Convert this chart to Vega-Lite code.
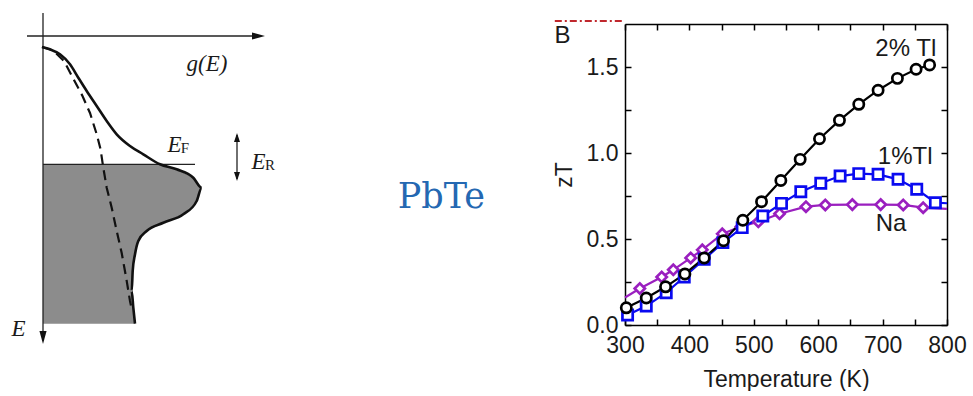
{
  "$schema": "https://vega.github.io/schema/vega-lite/v6.json",
  "background": "white",
  "padding": {"left": 0, "top": 12, "right": 0, "bottom": 0},
  "spacing": 0,
  "bounds": "flush",
  "resolve": {"scale": {"shape": "independent", "color": "independent", "stroke": "independent"}},
  "config": {"view": {"stroke": null}, "font": "Liberation Sans"},
  "datasets": {
    "fill": [
      {"g": 117, "E": 128.3}, {"g": 133.7, "E": 133.3}, {"g": 150.3, "E": 141.7}, {"g": 158.7, "E": 151.7},
      {"g": 153.7, "E": 165}, {"g": 140.3, "E": 178.3}, {"g": 120.3, "E": 186.7}, {"g": 103.7, "E": 195},
      {"g": 95.3, "E": 205}, {"g": 92, "E": 218.3}, {"g": 89.7, "E": 235}, {"g": 88.7, "E": 255},
      {"g": 90.3, "E": 271.7}, {"g": 92, "E": 287.7}
    ],
    "solid": [
      {"g": -1, "E": 11}, {"g": 7, "E": 13.3}, {"g": 17, "E": 18.3}, {"g": 27, "E": 28.3}, {"g": 35.3, "E": 41.7},
      {"g": 43.7, "E": 55}, {"g": 53.7, "E": 70}, {"g": 63.7, "E": 85}, {"g": 73.7, "E": 98.3}, {"g": 87, "E": 110},
      {"g": 100.3, "E": 118.3}, {"g": 117, "E": 128.3}, {"g": 133.7, "E": 133.3}, {"g": 150.3, "E": 141.7},
      {"g": 158.7, "E": 151.7}, {"g": 153.7, "E": 165}, {"g": 140.3, "E": 178.3}, {"g": 120.3, "E": 186.7},
      {"g": 103.7, "E": 195}, {"g": 95.3, "E": 205}, {"g": 92, "E": 218.3}, {"g": 89.7, "E": 235},
      {"g": 88.7, "E": 255}, {"g": 90.3, "E": 271.7}, {"g": 92, "E": 287.7}
    ],
    "dashed": [
      {"g": -1, "E": 11}, {"g": 10.3, "E": 14.5}, {"g": 21, "E": 25}, {"g": 31, "E": 44}, {"g": 39.5, "E": 60},
      {"g": 47, "E": 77}, {"g": 53.7, "E": 98.3}, {"g": 57.5, "E": 113}, {"g": 60.3, "E": 131.7}, {"g": 63.7, "E": 151.7},
      {"g": 68.7, "E": 171.7}, {"g": 73.7, "E": 195}, {"g": 78.7, "E": 217}, {"g": 83.4, "E": 243},
      {"g": 87, "E": 265}, {"g": 88.5, "E": 272}
    ],
    "rules": [
      {"g": 0, "E": -23, "g2": 0, "E2": 305},
      {"g": -16, "E": 0, "g2": 218, "E2": 0},
      {"g": 0, "E": 128.3, "g2": 152, "E2": 128.3},
      {"g": 194, "E": 99, "g2": 194, "E2": 143}
    ],
    "arrows": [
      {"g": 0, "E": 301.5, "dir": "down"},
      {"g": 215.5, "E": 0, "dir": "right"},
      {"g": 194, "E": 101.5, "dir": "upS"},
      {"g": 194, "E": 140.5, "dir": "downS"}
    ],
    "italic": [
      {"g": 164, "E": 35, "t": "g(E)"},
      {"g": -24.5, "E": 300, "t": "E"},
      {"g": 131.5, "E": 116, "t": "E"},
      {"g": 215.5, "E": 133, "t": "E"}
    ],
    "subs": [
      {"g": 142, "E": 117, "t": "F"},
      {"g": 227, "E": 134, "t": "R"}
    ],
    "title": [{"label": "PbTe"}],
    "zt": [
      {"s": "Na", "T": 300, "zT": 0.16, "m": 0},
      {"s": "Na", "T": 323, "zT": 0.212, "m": 1},
      {"s": "Na", "T": 357, "zT": 0.279, "m": 1},
      {"s": "Na", "T": 375, "zT": 0.321, "m": 1},
      {"s": "Na", "T": 402, "zT": 0.39, "m": 1},
      {"s": "Na", "T": 420, "zT": 0.437, "m": 1},
      {"s": "Na", "T": 451, "zT": 0.53, "m": 1},
      {"s": "Na", "T": 480, "zT": 0.572, "m": 1},
      {"s": "Na", "T": 507, "zT": 0.6, "m": 1},
      {"s": "Na", "T": 540, "zT": 0.647, "m": 1},
      {"s": "Na", "T": 581, "zT": 0.688, "m": 1},
      {"s": "Na", "T": 611, "zT": 0.698, "m": 1},
      {"s": "Na", "T": 653, "zT": 0.7, "m": 1},
      {"s": "Na", "T": 697, "zT": 0.7, "m": 1},
      {"s": "Na", "T": 732, "zT": 0.698, "m": 1},
      {"s": "Na", "T": 763, "zT": 0.682, "m": 1},
      {"s": "Na", "T": 800, "zT": 0.675, "m": 0},
      {"s": "1%Tl", "T": 304, "zT": 0.058, "m": 1},
      {"s": "1%Tl", "T": 333, "zT": 0.11, "m": 1},
      {"s": "1%Tl", "T": 364, "zT": 0.188, "m": 1},
      {"s": "1%Tl", "T": 392, "zT": 0.279, "m": 1},
      {"s": "1%Tl", "T": 423, "zT": 0.382, "m": 1},
      {"s": "1%Tl", "T": 452, "zT": 0.479, "m": 1},
      {"s": "1%Tl", "T": 482, "zT": 0.566, "m": 1},
      {"s": "1%Tl", "T": 514, "zT": 0.634, "m": 1},
      {"s": "1%Tl", "T": 543, "zT": 0.707, "m": 1},
      {"s": "1%Tl", "T": 573, "zT": 0.775, "m": 1},
      {"s": "1%Tl", "T": 604, "zT": 0.824, "m": 1},
      {"s": "1%Tl", "T": 634, "zT": 0.866, "m": 1},
      {"s": "1%Tl", "T": 663, "zT": 0.88, "m": 1},
      {"s": "1%Tl", "T": 693, "zT": 0.876, "m": 1},
      {"s": "1%Tl", "T": 724, "zT": 0.847, "m": 1},
      {"s": "1%Tl", "T": 753, "zT": 0.789, "m": 1},
      {"s": "1%Tl", "T": 782, "zT": 0.711, "m": 1},
      {"s": "1%Tl", "T": 800, "zT": 0.708, "m": 0},
      {"s": "2%Tl", "T": 302, "zT": 0.1, "m": 1},
      {"s": "2%Tl", "T": 333, "zT": 0.157, "m": 1},
      {"s": "2%Tl", "T": 363, "zT": 0.222, "m": 1},
      {"s": "2%Tl", "T": 393, "zT": 0.297, "m": 1},
      {"s": "2%Tl", "T": 423, "zT": 0.39, "m": 1},
      {"s": "2%Tl", "T": 453, "zT": 0.49, "m": 1},
      {"s": "2%Tl", "T": 483, "zT": 0.609, "m": 1},
      {"s": "2%Tl", "T": 512, "zT": 0.717, "m": 1},
      {"s": "2%Tl", "T": 542, "zT": 0.84, "m": 1},
      {"s": "2%Tl", "T": 572, "zT": 0.963, "m": 1},
      {"s": "2%Tl", "T": 602, "zT": 1.083, "m": 1},
      {"s": "2%Tl", "T": 633, "zT": 1.19, "m": 1},
      {"s": "2%Tl", "T": 663, "zT": 1.283, "m": 1},
      {"s": "2%Tl", "T": 693, "zT": 1.365, "m": 1},
      {"s": "2%Tl", "T": 723, "zT": 1.434, "m": 1},
      {"s": "2%Tl", "T": 752, "zT": 1.487, "m": 1},
      {"s": "2%Tl", "T": 773, "zT": 1.512, "m": 1}
    ],
    "ann": [
      {"T": 736, "zT": 1.565, "t": "2% Tl"},
      {"T": 735, "zT": 0.936, "t": "1%Tl"},
      {"T": 713, "zT": 0.547, "t": "Na"},
      {"T": 203, "zT": 1.64, "t": "B"}
    ],
    "red": [{"T": 191, "T2": 297, "zT": 1.767}]
  },
  "hconcat": [
    {
      "width": 300,
      "height": 301,
      "layer": [
        {
          "data": {"name": "fill"},
          "mark": {"type": "area", "orient": "horizontal", "color": "#8c8c8c", "opacity": 1},
          "encoding": {
            "y": {"field": "E", "type": "quantitative", "scale": {"domain": [-12, 289], "reverse": true, "nice": false, "zero": false}, "axis": null},
            "x": {"field": "g", "type": "quantitative", "scale": {"domain": [-43, 257], "nice": false, "zero": false}, "axis": null},
            "x2": {"datum": 0}
          }
        },
        {
          "data": {"name": "rules"},
          "mark": {"type": "rule", "color": "#222222", "strokeWidth": 1.3},
          "encoding": {
            "x": {"field": "g", "type": "quantitative", "axis": null},
            "x2": {"field": "g2"},
            "y": {"field": "E", "type": "quantitative", "axis": null},
            "y2": {"field": "E2"}
          }
        },
        {
          "data": {"name": "dashed"},
          "mark": {"type": "line", "color": "#111111", "strokeWidth": 2.2, "strokeDash": [10, 6]},
          "encoding": {
            "x": {"field": "g", "type": "quantitative", "axis": null},
            "y": {"field": "E", "type": "quantitative", "axis": null},
            "order": {"value": null}
          }
        },
        {
          "data": {"name": "solid"},
          "mark": {"type": "line", "color": "#111111", "strokeWidth": 2.6, "interpolate": "monotone"},
          "encoding": {
            "x": {"field": "g", "type": "quantitative", "axis": null},
            "y": {"field": "E", "type": "quantitative", "axis": null},
            "order": {"value": null}
          }
        },
        {
          "data": {"name": "arrows"},
          "mark": {"type": "point", "filled": true, "color": "#111111", "size": 169, "opacity": 1},
          "encoding": {
            "x": {"field": "g", "type": "quantitative", "axis": null},
            "y": {"field": "E", "type": "quantitative", "axis": null},
            "shape": {
              "field": "dir", "type": "nominal", "legend": null,
              "scale": {
                "domain": ["down", "right", "upS", "downS"],
                "range": ["M-0.55,-1L0,1L0.55,-1Z", "M-1,-0.55L1,0L-1,0.55Z", "M-0.46,0.7L0,-0.7L0.46,0.7Z", "M-0.46,-0.7L0,0.7L0.46,-0.7Z"]
              }
            }
          }
        },
        {
          "data": {"name": "italic"},
          "mark": {"type": "text", "font": "Liberation Serif", "fontStyle": "italic", "fontSize": 23, "align": "center", "baseline": "alphabetic", "color": "#1a1a1a"},
          "encoding": {
            "x": {"field": "g", "type": "quantitative", "axis": null},
            "y": {"field": "E", "type": "quantitative", "axis": null},
            "text": {"field": "t"}
          }
        },
        {
          "data": {"name": "subs"},
          "mark": {"type": "text", "font": "Liberation Serif", "fontSize": 15, "align": "center", "baseline": "alphabetic", "color": "#1a1a1a"},
          "encoding": {
            "x": {"field": "g", "type": "quantitative", "axis": null},
            "y": {"field": "E", "type": "quantitative", "axis": null},
            "text": {"field": "t"}
          }
        }
      ]
    },
    {
      "width": 325,
      "height": 301,
      "data": {"name": "title"},
      "mark": {"type": "text", "font": "DejaVu Serif", "fontSize": 35, "align": "center", "baseline": "alphabetic", "color": "#2468b2"},
      "encoding": {
        "x": {"datum": 0.435, "type": "quantitative", "scale": {"domain": [0, 1], "nice": false, "zero": false}, "axis": null},
        "y": {"datum": 0.389, "type": "quantitative", "scale": {"domain": [0, 1], "nice": false, "zero": false}, "axis": null},
        "text": {"field": "label"}
      }
    },
    {
      "width": 322,
      "height": 301,
      "layer": [
        {
          "data": {"name": "zt"},
          "mark": {"type": "line", "strokeWidth": 2.2},
          "encoding": {
            "x": {
              "field": "T", "type": "quantitative",
              "scale": {"domain": [300, 800], "nice": false, "zero": false},
              "axis": {
                "orient": "bottom", "title": "Temperature (K)",
                "values": [300, 350, 400, 450, 500, 550, 600, 650, 700, 750, 800],
                "labelExpr": "datum.value % 100 == 0 ? datum.label : ''",
                "format": "d", "labelFlush": false, "labelOverlap": false,
                "tickSize": -6, "tickWidth": 1.5, "tickColor": "black",
                "domainColor": "black", "domainWidth": 1.5,
                "labelFont": "Liberation Sans", "labelFontSize": 23, "labelColor": "#1a1a1a", "labelPadding": 15,
                "titleFont": "Liberation Sans", "titleFontSize": 23, "titleFontWeight": "normal", "titleColor": "#1a1a1a", "titlePadding": 11,
                "grid": false
              }
            },
            "y": {
              "field": "zT", "type": "quantitative",
              "scale": {"domain": [0, 1.75], "nice": false, "zero": false},
              "axis": {
                "orient": "left", "title": "zT",
                "values": [0, 0.25, 0.5, 0.75, 1, 1.25, 1.5],
                "labelExpr": "datum.value % 0.5 == 0 ? format(datum.value, '.1f') : ''",
                "labelOverlap": false,
                "tickSize": -6, "tickWidth": 1.5, "tickColor": "black",
                "domainColor": "black", "domainWidth": 1.5,
                "labelFont": "Liberation Sans", "labelFontSize": 23, "labelColor": "#1a1a1a", "labelPadding": 13,
                "titleFont": "Liberation Sans", "titleFontSize": 23, "titleFontWeight": "normal", "titleColor": "#1a1a1a", "titlePadding": 10,
                "grid": false
              }
            },
            "color": {
              "field": "s", "type": "nominal", "legend": null,
              "scale": {"domain": ["Na", "1%Tl", "2%Tl"], "range": ["#9a1fbf", "#0a0af0", "#000000"]}
            }
          }
        },
        {
          "data": {"name": "zt"},
          "transform": [{"filter": "datum.m == 1"}],
          "mark": {"type": "point", "filled": false, "fill": "white", "fillOpacity": 1, "strokeWidth": 2.7, "opacity": 1, "size": 105},
          "encoding": {
            "x": {"field": "T", "type": "quantitative", "axis": null},
            "y": {"field": "zT", "type": "quantitative", "axis": null},
            "stroke": {
              "field": "s", "type": "nominal", "legend": null,
              "scale": {"domain": ["Na", "1%Tl", "2%Tl"], "range": ["#9a1fbf", "#0a0af0", "#000000"]}
            },
            "shape": {
              "field": "s", "type": "nominal", "legend": null,
              "scale": {"domain": ["Na", "1%Tl", "2%Tl"], "range": ["diamond", "square", "circle"]}
            }
          }
        },
        {
          "data": {"name": "ann"},
          "mark": {"type": "text", "font": "Liberation Sans", "fontSize": 24, "align": "center", "baseline": "alphabetic", "color": "#1a1a1a"},
          "encoding": {
            "x": {"field": "T", "type": "quantitative", "axis": null},
            "y": {"field": "zT", "type": "quantitative", "axis": null},
            "text": {"field": "t"}
          }
        },
        {
          "data": {"name": "red"},
          "mark": {"type": "rule", "color": "#c0282d", "strokeWidth": 2, "strokeDash": [7, 3, 2, 3]},
          "encoding": {
            "x": {"field": "T", "type": "quantitative", "axis": null},
            "x2": {"field": "T2"},
            "y": {"field": "zT", "type": "quantitative", "axis": null}
          }
        },
        {
          "data": {"name": "zt"},
          "mark": {"type": "point", "opacity": 0},
          "encoding": {
            "x": {
              "field": "T", "type": "quantitative",
              "axis": {
                "orient": "top", "title": null, "labels": false,
                "values": [300, 350, 400, 450, 500, 550, 600, 650, 700, 750, 800],
                "tickSize": -6, "tickWidth": 1.5, "tickColor": "black",
                "domainColor": "black", "domainWidth": 1.5, "grid": false
              }
            },
            "y": {
              "field": "zT", "type": "quantitative",
              "axis": {
                "orient": "right", "title": null, "labels": false,
                "values": [0, 0.25, 0.5, 0.75, 1, 1.25, 1.5],
                "tickSize": -6, "tickWidth": 1.5, "tickColor": "black",
                "domainColor": "black", "domainWidth": 1.5, "grid": false
              }
            }
          }
        }
      ],
      "resolve": {"axis": {"x": "independent", "y": "independent"}}
    }
  ]
}
